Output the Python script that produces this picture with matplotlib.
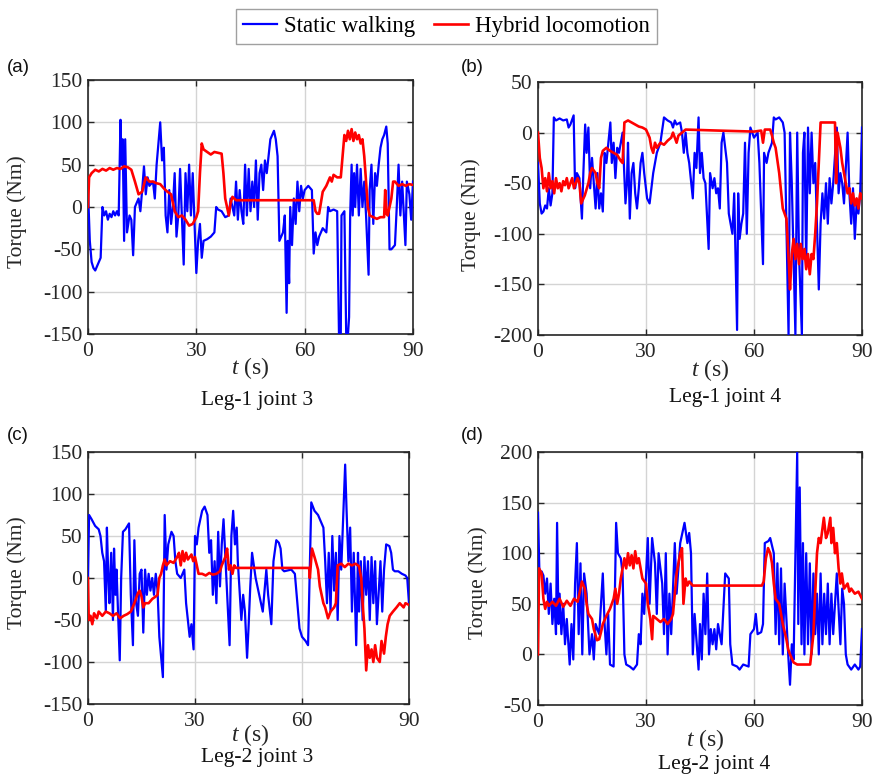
import matplotlib
matplotlib.use("Agg")
import matplotlib.pyplot as plt
import numpy as np

# ---------------- data ----------------
# Panel (a) Leg-1 joint 3
a_static_t = [0,0.5,1,1.5,2,2.5,3,3.5,4,4.5,5,5.5,6,6.5,7,7.5,8,8.5,9,9.3,9.6,10,10.3,10.8,11.5,12,12.5,13,14,14.5,15,15.5,16,16.5,17,18,18.5,19,20,20.5,21,21.5,22,22.5,23,23.5,24,24.5,25,25.5,26,26.5,27,27.5,28,28.5,29,29.5,30,30.5,31,31.5,32,33,34,35,35.5,36,37,38,39,39.5,40,40.5,41,41.5,42,42.5,43,43.5,44,44.5,45,45.5,46,46.5,47,47.5,48,48.5,49,49.5,50,50.5,51,51.5,52,52.5,53,53.5,54,54.5,55,55.3,55.7,56,56.5,57,57.5,58,58.5,59,59.5,60,61,62,62.5,63,63.5,64,65,66,66.5,67,68,69,69.5,70,70.2,71,71.5,72,72.3,72.6,73,73.3,73.7,74,74.5,75,75.5,76,76.5,77,77.7,78,78.5,79,79.5,80,80.5,81,81.5,82,82.6,83,83.5,84,85,85.5,86,86.5,87,87.9,88.3,89,89.5,90]
a_static_v = [20,-40,-65,-72,-75,-70,-65,-60,0,-10,-5,-15,-8,-12,-5,-10,-5,-10,103,50,80,-40,80,-30,-10,-15,-57,0,10,-5,20,48,15,35,25,30,10,50,100,55,70,-10,-30,20,-20,0,40,-35,-10,45,-10,-68,40,-5,50,-10,40,-20,-78,-40,-20,-60,-40,-38,-35,-30,0,-3,-5,-12,-10,10,0,-10,30,-15,20,-5,-20,50,-10,45,-5,30,0,55,-15,40,50,20,55,40,60,80,85,90,80,60,-40,-35,-30,-10,-125,-40,-90,0,-45,10,-20,30,-5,25,10,20,25,20,-55,-30,-45,-35,-25,-30,0,-5,-3,-5,-150,-150,-10,-5,-150,-150,-130,-10,50,-10,40,0,50,-10,45,0,30,-10,-80,20,50,-20,40,25,50,70,80,85,95,75,-50,-50,-45,0,50,-10,30,-45,30,15,-15,30]
a_hybrid_t = [0,0.3,1,2,3,4,5,6,7,8,9,10,11,12,13,14,15,16,17,18,19,20,21,22,23,24,25,26,27,28,29,30,30.5,31,31.5,32,33,34,35,36,37,37.5,38,39,39.5,40,41,62.5,63,63.5,64,64.5,65,66,67,67.5,68,69,70,70.5,71,71.5,72,72.5,73,73.5,74,74.5,75,75.5,76,76.5,77,77.5,78,79,80,81,82,82.3,82.7,83,84,84.5,85,86,87,88,89,90]
a_hybrid_v = [0,35,40,44,42,45,43,46,44,46,45,48,47,44,30,15,18,35,30,30,28,27,22,18,15,-5,-12,-10,-15,-22,-20,-12,-5,40,75,68,65,62,65,64,63,40,10,-10,5,12,8,8,-5,-8,-8,5,18,25,35,30,38,35,35,60,85,78,90,80,92,78,88,80,85,75,80,60,30,0,-10,-12,-14,-12,-12,20,-8,-10,10,30,30,25,27,25,27,26]

# Panel (b) Leg-1 joint 4
b_static_t = [0,0.5,1,1.5,2,2.5,3,3.5,4,4.4,5,6,7,8,8.5,9,9.9,10.3,10.8,11.5,12.2,12.6,13.1,13.5,14,14.5,15,15.5,16,16.5,17,17.5,18,18.5,19,20.1,20.5,21,21.5,22,22.5,23,23.5,24.3,24.7,25,25.5,26,26.5,27,27.5,28,28.5,29,29.5,30.3,31,31.5,32,32.5,33,34,35,36,37,37.5,38,38.5,39.5,40,40.5,41,41.5,42,43,43.5,44,44.6,45,45.5,46,46.5,47.4,47.8,48.5,49,49.5,50,50.5,51,51.5,52.5,53,53.5,54,54.5,55.3,55.6,56,56.5,57,57.5,58,58.5,59,60,61,61.5,62.5,62.8,63.5,64,65,65.5,66,67,68,68.5,69.6,70,70.5,71.5,72,72.5,73.3,73.6,74,74.5,75,75.5,76,76.5,77,78,78.5,79,79.5,80,80.5,81,81.5,82,83,83.5,84,84.5,85,85.5,86,86.5,87,87.5,88,88.5,89,89.5,90]
b_static_v = [-30,-70,-80,-78,-72,-75,-55,-72,-60,15,12,14,12,13,5,8,17,-55,-40,-45,-85,-40,8,-20,5,-55,-25,-50,-75,-40,-75,-60,-78,-20,-30,10,-30,-10,-45,-15,-20,-10,0,-70,-50,-10,-85,-40,-30,-60,-75,-55,-30,-20,-40,-65,-70,-55,-40,-30,-20,-10,15,12,10,5,12,8,10,0,-20,0,-20,-30,-65,-20,-35,15,-40,-20,-45,-50,-115,-40,-55,-45,-60,-55,-75,-10,0,-30,-80,-90,-100,-60,-195,-60,-105,-90,-80,-10,-100,-20,5,-5,0,-30,-130,-20,-30,-20,-10,15,13,15,10,0,-200,0,-50,-200,0,-120,-200,-20,0,-130,5,-60,0,-50,-30,-155,-90,-60,-85,-50,-90,-45,-70,-50,5,-60,-40,-50,-70,-35,0,-60,-90,-55,-105,-70,-80,-60,5]
b_hybrid_t = [0,0.5,1,1.5,2,2.5,3,3.5,4,4.5,5,5.5,6,6.5,7,7.5,8,8.5,9,9.5,10,10.5,11,11.5,12,13,14,14.5,15,16,16.5,17,17.5,18,19,20,21,22,23,23.5,24,25,26,27,28,29,30,31,31.5,32,32.5,33,34,35,36,37,37.5,38.5,39,40,41,50,60,62,62.5,63,64.5,65,65.5,66,67,68,69,69.7,70,70.5,71,71.5,72,72.5,73,73.5,74,74.5,75,75.5,76,76.5,77,77.5,78,78.5,82.5,82.8,83.2,84,84.5,85,85.5,86,86.5,87,87.5,88,88.5,89,89.5,90]
b_hybrid_v = [0,-25,-35,-55,-45,-58,-40,-55,-48,-60,-45,-55,-50,-58,-48,-52,-45,-55,-50,-45,-55,-50,-45,-50,-70,-62,-50,-40,-35,-40,-50,-55,-25,-18,-15,-18,-20,-22,-28,-30,10,12,10,8,6,5,3,-5,-15,-20,-10,-15,-10,-12,-8,-5,0,-10,-3,0,3,2,1,2,-10,3,3,-3,-10,-15,-40,-75,-85,-130,-155,-120,-105,-125,-110,-130,-110,-125,-115,-135,-120,-140,-120,-125,-100,-70,-30,10,10,-50,0,-15,-30,-40,-50,-60,-55,-70,-60,-72,-65,-75,-60,-65]

# Panel (c) Leg-2 joint 3
c_static_t = [0,0.3,1,2,3,3.5,4,4.5,5,5.3,5.7,6,6.5,7,7.3,7.7,8,8.9,9.3,9.8,10.5,11.5,12,12.6,13,13.5,14,14.5,15,15.5,16,16.5,17,17.5,18,18.5,19,19.5,20,21,21.5,22,22.5,23.4,24,24.5,25,26,27,27.5,28,28.5,29,29.6,30,30.5,31,32,32.7,33.5,34,34.5,35,35.5,36,36.5,37,37.5,38,39.7,40.2,40.7,41.2,41.7,42,43,43.5,44,44.6,45,45.5,46,47,48,49,50,50.5,51.4,52,52.8,53.5,54,54.5,55,57,58,58.5,59.3,60,61,61.7,62.6,63.5,64.5,65,66,66.5,67,67.5,68,68.5,69,69.5,70,70.5,71,72.1,72.5,73,73.5,74,74.5,75.2,75.7,76,76.5,77,77.5,78,78.5,79,79.5,80,80.5,81,82,82.5,83,83.6,84.5,85,85.5,86,87,88,89,89.5,90]
c_static_v = [0,75,70,62,58,50,30,20,-40,60,0,-30,30,-50,35,-20,10,-98,0,55,58,65,-20,-80,45,-30,-45,5,10,-65,10,-20,5,-15,0,-20,5,-15,-70,-118,75,10,40,55,50,20,5,0,10,-30,-50,-70,-55,-85,50,40,60,80,85,75,30,45,-20,20,-30,55,-10,40,70,-80,50,80,40,60,20,-50,-20,-40,-95,-60,-10,30,0,-20,-40,10,-20,-55,20,45,42,35,10,8,10,5,-20,-60,-70,-75,-80,90,80,75,70,60,20,-30,30,-40,50,-15,30,-50,50,10,135,80,20,60,-40,30,-80,30,-40,20,-50,25,-20,20,-50,25,-30,20,-55,20,-40,10,40,38,30,10,8,8,5,3,0,-30]
c_hybrid_t = [0,0.2,0.7,1.2,1.7,2.5,3,4,5,6,7,8,9,10,11,12,13,14,14.5,15,15.5,16,17,18,19,19.5,20,20.5,21,21.5,22,23,24,25,25.5,26,26.5,27,27.5,28,29,29.5,30,30.5,31,32,33,34,35,36,37,37.5,38.5,39,39.5,40,40.5,41,41.5,62,62.2,62.8,63.5,64.5,65,66,66.5,67.3,68,69,69.5,70,71,72,73,74,75,76,76.6,77,77.5,78,78.5,79,79.5,80,80.5,81,81.8,82.3,83,83.5,84,84.6,85.5,86.5,87.4,88.5,89,90]
c_hybrid_v = [0,-50,-45,-55,-42,-48,-40,-45,-40,-42,-45,-42,-48,-45,-43,-40,-30,-18,-15,-22,-35,-30,-30,-25,-22,-20,0,5,15,22,15,20,18,25,30,15,32,20,30,22,28,20,25,15,5,5,3,6,4,5,8,15,25,35,10,15,5,15,12,12,0,35,25,10,-10,-30,-35,-48,-40,-35,-30,15,17,13,17,15,17,14,0,-30,-60,-110,-80,-95,-85,-100,-80,-95,-100,-75,-90,-70,-55,-45,-40,-35,-30,-35,-30,-32]

# Panel (d) Leg-2 joint 4
d_static_t = [0,0.4,1,1.5,2,2.5,3,3.5,4,4.5,5,5.3,5.7,6,6.5,7,7.5,8,8.8,9.3,9.8,10.3,10.8,11.3,11.8,12.3,12.8,13.5,14.3,15,15.5,16,17,17.5,18,18.5,19,19.5,20,21,21.7,22.2,23,23.5,24,24.5,25.5,26.5,27.5,28,28.5,29,29.5,30.5,31,31.7,32.5,33,33.5,34.5,35,35.5,36,36.5,37,38,38.5,39.5,40.7,41.5,42,42.5,43,43.5,44.6,45,45.5,46,46.5,47,47.5,48,48.5,49,49.5,50,51,52,53,53.4,54,55.3,56,57,58.5,59,60,60.5,61,62,62.5,63,64,64.5,65.5,66,66.5,67,67.5,68,68.5,69.5,70,70.5,71,72,72.3,72.7,73.2,73.6,74,74.5,75,75.5,76,76.5,77,77.5,78,78.5,79,79.5,80,80.5,81,81.5,82,83,84,84.5,85,85.5,86,87,88,89,89.5,90]
d_static_v = [140,80,82,78,60,75,40,70,30,55,20,130,30,60,20,50,10,35,-10,30,-5,70,110,20,90,0,80,60,0,20,-5,30,20,50,80,30,0,40,-10,-12,130,100,95,80,0,-10,-12,-15,-10,20,10,60,40,115,50,115,90,40,100,70,20,100,0,60,20,110,60,110,130,110,120,100,0,40,-15,30,-5,60,20,80,0,25,10,25,5,30,10,80,75,10,-10,-12,-15,-10,-12,20,25,40,20,22,30,110,112,115,100,20,90,10,85,0,70,0,-30,10,-5,200,30,165,10,110,0,100,10,90,0,80,20,60,0,80,10,60,20,70,10,60,20,80,10,65,50,0,-10,-15,-10,-15,-12,25]
d_hybrid_t = [0,0.3,1,1.5,2,2.5,3,4,5,6,7,8,9,10,11,11.5,12.2,13,13.5,14,15,15.5,16.4,17,17.5,18,19,20,21,21.5,22,22.5,23,24,24.5,25,25.5,26,26.5,27,27.5,28,29,30,30.5,31.2,31.7,32,33,34,35,36,37,37.5,38.5,39.5,40,40.4,41,41.5,42,43,62.2,62.7,63.3,63.9,64.5,65,65.5,66,67,68,69,69.5,70,71,72,75.6,76.5,77,77.5,78,78.5,79.4,80,80.5,81.2,81.5,82,82.5,83,83.5,84,84.4,85,86,86.5,87,88,89,90]
d_hybrid_v = [0,85,80,55,45,52,48,52,48,55,47,53,48,55,52,60,72,65,50,40,35,25,14,15,22,30,38,45,55,65,50,60,75,95,85,100,88,98,85,102,90,95,75,70,50,35,15,38,35,32,35,30,35,40,80,100,105,50,75,68,72,68,68,72,95,105,100,90,70,55,50,30,15,5,0,-8,-10,-10,20,60,100,115,110,135,115,120,135,110,125,100,110,85,70,80,65,70,62,65,60,62,55]

panels = [
    ("(a)", "Leg-1 joint 3", a_static_t, a_static_v, a_hybrid_t, a_hybrid_v, (-150, 150), [-150, -100, -50, 0, 50, 100, 150]),
    ("(b)", "Leg-1 joint 4", b_static_t, b_static_v, b_hybrid_t, b_hybrid_v, (-200, 50), [-200, -150, -100, -50, 0, 50]),
    ("(c)", "Leg-2 joint 3", c_static_t, c_static_v, c_hybrid_t, c_hybrid_v, (-150, 150), [-150, -100, -50, 0, 50, 100, 150]),
    ("(d)", "Leg-2 joint 4", d_static_t, d_static_v, d_hybrid_t, d_hybrid_v, (-50, 200), [-50, 0, 50, 100, 150, 200]),
]
x_ticks = [0, 30, 60, 90]

# ---------------- layout ----------------
SERIF = ["Liberation Serif", "DejaVu Serif"]
SANS = ["Liberation Sans", "DejaVu Sans"]
plt.rcParams["font.family"] = SERIF
plt.rcParams["axes.unicode_minus"] = False
plt.rcParams["mathtext.fontset"] = "custom"
plt.rcParams["mathtext.rm"] = "Liberation Serif"
plt.rcParams["mathtext.it"] = "Liberation Serif:italic"

W, H = 874, 778
fig = plt.figure(figsize=(W / 100, H / 100), dpi=100)

boxes = [(88, 80, 413, 334), (538, 82, 862, 335), (88, 452, 409, 704), (538, 452, 862, 705)]
panel_lab_pos = [(7, 68), (461, 68), (7, 435), (461, 435)]
ylab_pos = [(-0.188, 0.48), (-0.176, 0.474), (-0.19, 0.52), (-0.154, 0.482)]
tlab_pos = [(0.498, -0.134), (0.531, -0.138), (0.505, -0.123), (0.515, -0.138)]
sub_pos = [(0.52, -0.26), (0.577, -0.249), (0.527, -0.214), (0.543, -0.237)]

blue = "#0000ff"
red = "#ff0000"
ink = "#262626"
for i, (lab, sub, st, sv, ht, hv, ylim, yt) in enumerate(panels):
    l, t, r, b = boxes[i]
    ax = fig.add_axes([l / W, 1 - b / H, (r - l) / W, (b - t) / H])
    ax.plot(st, sv, color=blue, lw=1.6, label="Static walking", zorder=3)
    ax.plot(ht, hv, color=red, lw=1.9, label="Hybrid locomotion", zorder=4)
    ax.set_xlim(0, 90)
    ax.set_ylim(*ylim)
    ax.set_xticks(x_ticks)
    ax.set_yticks(yt)
    ax.grid(True, color="#d4d4d4", lw=1.0, zorder=0)
    ax.set_axisbelow(True)
    ax.tick_params(direction="in", top=True, right=True, length=4, width=1,
                   labelsize=15.5, colors=ink)
    ax.tick_params(axis="x", pad=6)
    ax.tick_params(axis="y", pad=4)
    for s in ax.spines.values():
        s.set_color(ink)
        s.set_linewidth(1.2)
    ax.set_ylabel("Torque (Nm)", fontsize=15.5, color=ink)
    ax.yaxis.set_label_coords(*ylab_pos[i])
    ax.text(*tlab_pos[i], r"$\mathit{t}$ (s)", transform=ax.transAxes, ha="center", va="center",
            fontsize=17, color=ink)
    ax.text(*sub_pos[i], sub, transform=ax.transAxes, ha="center", va="center",
            fontsize=15.5, color="#111111")
    px, py = panel_lab_pos[i]
    fig.text(px / W, 1 - py / H, lab, ha="left", va="center", fontsize=13.5,
             family=SANS, color="#111111")
    if i == 0:
        handles, labels = ax.get_legend_handles_labels()

leg = fig.legend(handles, labels, loc="center", bbox_to_anchor=(446.5 / W, 1 - 26.5 / H),
                 ncol=2, fontsize=16.5, frameon=True, fancybox=False, handlelength=1.5,
                 handletextpad=0.3, columnspacing=0.8, borderpad=0.3, edgecolor="#888888")
leg.get_frame().set_linewidth(1.0)

fig.savefig("out.png", dpi=100)
